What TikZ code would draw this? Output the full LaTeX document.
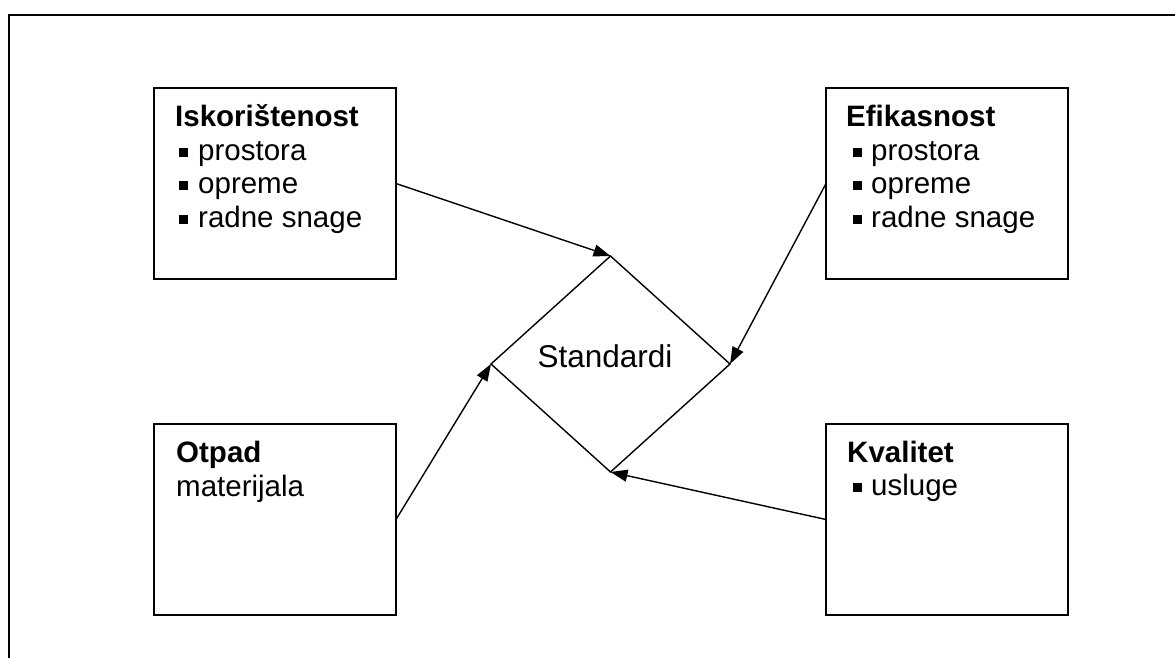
\documentclass[tikz,border=0pt]{standalone}
\usepackage{fontspec}
\setmainfont{Liberation Sans}
\usetikzlibrary{shapes.geometric,arrows.meta}
% small square bullet used in the lists
\newcommand{\sqbul}{\rule[3.5pt]{9pt}{9pt}}
\begin{document}
\begin{tikzpicture}[x=1pt,y=-1pt,
  frame/.style={draw,line width=2pt},
  card/.style={draw,line width=2pt,rectangle,anchor=north west,
    minimum width=242pt,minimum height=191pt,inner sep=0pt,outer sep=0pt},
  hub/.style={draw,line width=1.4pt,diamond,minimum width=239pt,
    minimum height=216pt,inner sep=0pt,outer sep=0pt},
  txt/.style={anchor=base west,inner sep=0pt,
    font=\fontsize{29.5}{33.5}\selectfont},
  head/.style={txt,font=\fontsize{29.5}{33.5}\selectfont\bfseries},
  link/.style={line width=1.4pt,-{Triangle[length=17pt,width=12pt]}}
]
\useasboundingbox (0,0) rectangle (1175,657);
% outer frame, running past the right and bottom edges
\begin{scope}
  \clip (0,0) rectangle (1175,657);
  \draw[frame] (9,15) rectangle (1190,680);
\end{scope}

% the four boxes
\node[card] (isk) at (154,88) {};
\node[card] (efik) at (826,88) {};
\node[card] (otpad) at (154,424) {};
\node[card] (kval) at (826,424) {};

% box texts
\node[head] (isk-h) at (175,126) {Iskorištenost};
\node[txt] (isk-1) at (179,160) {\sqbul\hspace{10pt}prostora};
\node[txt] (isk-2) at (179,193) {\sqbul\hspace{10pt}opreme};
\node[txt] (isk-3) at (179,227) {\sqbul\hspace{10pt}radne snage};

\node[head] (efik-h) at (846,126) {Efikasnost};
\node[txt] (efik-1) at (853,160) {\sqbul\hspace{9pt}prostora};
\node[txt] (efik-2) at (853,193) {\sqbul\hspace{9pt}opreme};
\node[txt] (efik-3) at (853,227) {\sqbul\hspace{9pt}radne snage};

\node[head] (otpad-h) at (176,462) {Otpad};
\node[txt] (otpad-1) at (176,496) {materijala};

\node[head] (kval-h) at (847,462) {Kvalitet};
\node[txt] (kval-1) at (853,495) {\sqbul\hspace{9pt}usluge};

% central diamond
\node[hub] (std) at (610.5,364) {};
\node[anchor=base,inner sep=0pt,font=\fontsize{31.5}{36}\selectfont]
  (std-t) at (605,367) {Standardi};

% connectors into the diamond corners
\draw[link] (isk.east) -- (std.north);
\draw[link] (efik.west) -- (std.east);
\draw[link] (otpad.east) -- (std.west);
\draw[link] (kval.west) -- (std.south);
\end{tikzpicture}
\end{document}
